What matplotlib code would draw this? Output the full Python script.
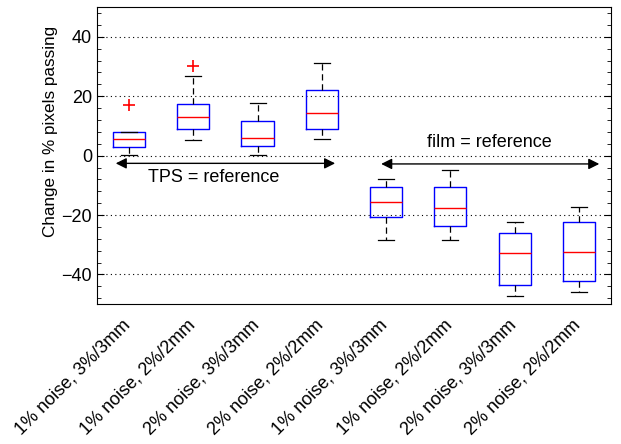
import matplotlib
import matplotlib.pyplot as plt
from matplotlib.ticker import MultipleLocator
from matplotlib.transforms import ScaledTranslation

matplotlib.use('Agg')
plt.rcParams['font.family'] = ['Liberation Sans', 'DejaVu Sans']

labels = ['1% noise, 3%/3mm', '1% noise, 2%/2mm', '2% noise, 3%/3mm', '2% noise, 2%/2mm',
          '1% noise, 3%/3mm', '1% noise, 2%/2mm', '2% noise, 3%/3mm', '2% noise, 2%/2mm']
medians = [5.5, 13.1, 5.9, 14.4, -15.6, -17.7, -32.9, -32.5]
q1 = [3.0, 9.1, 3.1, 9.1, -20.5, -23.8, -43.5, -42.2]
q3 = [7.8, 17.3, 11.7, 22.1, -10.5, -10.5, -26.0, -22.3]
whislo = [0.1, 5.1, 0.1, 5.5, -28.5, -28.5, -47.1, -45.8]
whishi = [7.8, 26.7, 17.7, 31.1, -7.8, -4.7, -22.2, -17.3]
fliers = [[17.1], [30.3], [], [], [], [], [], []]

stats = []
for i in range(len(labels)):
    stats.append({'med': medians[i], 'q1': q1[i], 'q3': q3[i],
                  'whislo': whislo[i], 'whishi': whishi[i], 'fliers': fliers[i]})

fig = plt.figure(figsize=(6.21, 4.44), dpi=100)
ax = fig.add_axes([0.156, 0.315, 0.828, 0.669])

ax.bxp(stats, positions=range(1, 9), widths=0.5, showfliers=True,
       boxprops=dict(color='blue', linewidth=1.0),
       medianprops=dict(color='red', linewidth=1.0),
       whiskerprops=dict(color='black', linestyle=(0, (5, 3)), linewidth=0.9),
       capprops=dict(color='black', linewidth=0.9),
       flierprops=dict(marker='+', markeredgecolor='red', markersize=8, markeredgewidth=1.2))

ax.set_xlim(0.5, 8.5)
ax.set_ylim(-50, 50)
ax.set_yticks([-40, -20, 0, 20, 40])
ax.yaxis.set_minor_locator(MultipleLocator(4))
ax.yaxis.grid(True, linestyle=(0, (1, 3)), color='black', linewidth=0.8)
ax.tick_params(axis='y', which='both', direction='in', right=True, labelsize=13)
ax.tick_params(axis='y', which='major', length=5)
ax.tick_params(axis='y', which='minor', length=3)
ax.tick_params(axis='x', length=0, pad=9)
ax.set_xticks(range(1, 9))
ax.set_xticklabels(labels, rotation=45, ha='right', rotation_mode='anchor', fontsize=13)
shift = ScaledTranslation(-7 / 100, 0, fig.dpi_scale_trans)
for lbl in ax.get_xticklabels():
    lbl.set_transform(lbl.get_transform() + shift)
ax.set_ylabel('Change in % pixels passing', fontsize=12.3)
ax.yaxis.set_label_coords(-0.076, 0.58)

# reference arrows
ax.annotate('', xy=(0.75, -2.6), xytext=(4.25, -2.6),
            arrowprops=dict(arrowstyle='<|-|>', color='black', lw=1, mutation_scale=16))
ax.text(2.32, -7.3, 'TPS = reference', ha='center', va='center', fontsize=13)
ax.annotate('', xy=(4.88, -2.8), xytext=(8.36, -2.8),
            arrowprops=dict(arrowstyle='<|-|>', color='black', lw=1, mutation_scale=16))
ax.text(6.6, 4.5, 'film = reference', ha='center', va='center', fontsize=13)

fig.savefig('out.png', dpi=100)
